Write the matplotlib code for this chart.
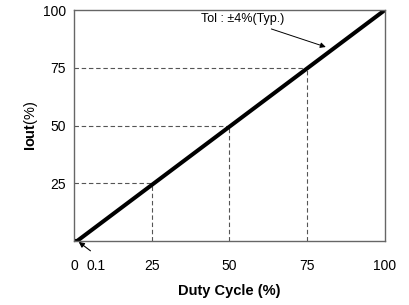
import matplotlib
matplotlib.use("Agg")
import matplotlib.pyplot as plt

plt.rcParams["font.family"] = ["Liberation Sans", "DejaVu Sans"]
plt.rcParams["mathtext.fontset"] = "custom"
plt.rcParams["mathtext.rm"] = "Liberation Sans"
plt.rcParams["mathtext.bf"] = "Liberation Sans:bold"

# curve: duty cycle vs output current
duty = [0, 1, 100]
iout = [0, 0, 100]
guide_levels = [25, 50, 75]
xtick_pos = [0, 7, 25, 50, 75, 100]
xtick_labels = ["0", "0.1", "25", "50", "75", "100"]
ytick_pos = [25, 50, 75, 100]

fig = plt.figure(figsize=(4.09, 3.05), dpi=100)
ax = fig.add_axes([0.181, 0.210, 0.760, 0.757])

for lv in guide_levels:
    ax.plot([0, lv], [lv, lv], ls=(0, (4, 2.5)), color="#555555", lw=0.8)
    ax.plot([lv, lv], [0, lv], ls=(0, (4, 2.5)), color="#555555", lw=0.8)

ax.plot(duty, iout, color="black", lw=2.9, solid_capstyle="butt")

ax.annotate("", xy=(0.8, 0.3), xytext=(6, -5),
            arrowprops=dict(arrowstyle="-|>", color="black", lw=0.8,
                            mutation_scale=8),
            annotation_clip=False)
ax.annotate("Tol : ±4%(Typ.)", xy=(81, 84), xytext=(67.5, 96),
            fontsize=9, ha="right", va="center",
            arrowprops=dict(arrowstyle="-|>", color="black", lw=0.7,
                            mutation_scale=8, shrinkA=2, shrinkB=0))

ax.set_xlim(0, 100)
ax.set_ylim(0, 100)
ax.set_xticks(xtick_pos)
ax.set_xticklabels(xtick_labels)
ax.set_yticks(ytick_pos)
ax.tick_params(length=0, labelsize=10, pad=6)
ax.tick_params(axis="x", pad=13)
for sp in ax.spines.values():
    sp.set_color("#666666")
    sp.set_linewidth(1.0)

ax.set_xlabel("Duty Cycle (%)", fontsize=10.5, fontweight="bold", labelpad=8)
ax.set_ylabel(r"$\mathbf{Iout}$(%)", fontsize=10.5, labelpad=2)

fig.savefig("out.png", dpi=100)
